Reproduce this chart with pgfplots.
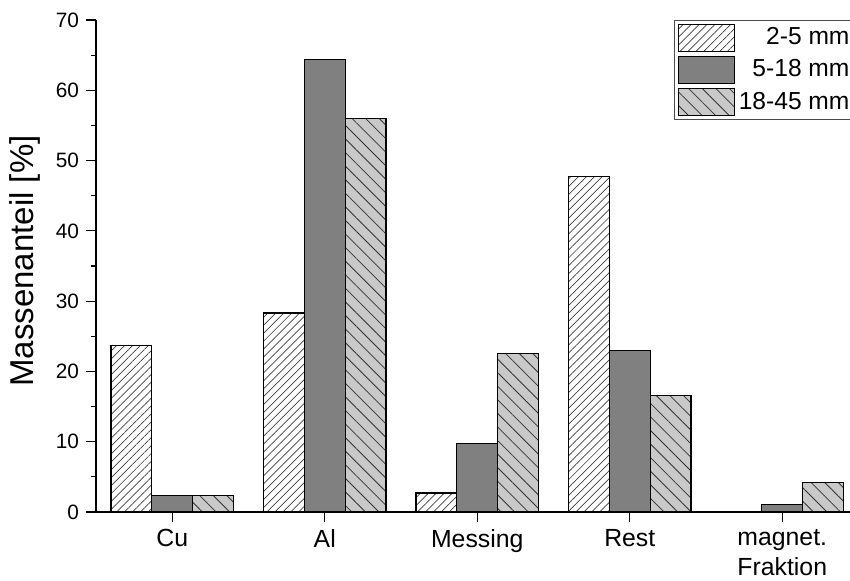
\documentclass[border=0pt]{standalone}
\usepackage{fontspec}
\setmainfont{Liberation Sans}
\usepackage{pgfplots}
\pgfplotsset{compat=1.18}
\usetikzlibrary{patterns.meta}

\definecolor{darkbar}{RGB}{128,128,128}
\definecolor{lightbar}{RGB}{201,201,201}

\begin{document}
\begin{tikzpicture}
\begin{axis}[
  at={(0pt,0pt)}, anchor=south west,
  scale only axis, width=381.25pt, height=246pt,
  xmin=-0.5, xmax=4.5, ymin=0, ymax=70,
  axis x line*=bottom, axis y line*=left,
  axis line style={-, line width=0.6pt},
  ytick={0,10,...,70}, minor y tick num=1,
  xtick={0,1,2,3,4},
  xticklabels={Cu,Al,Messing,Rest,{magnet.\\Fraktion}},
  xticklabel style={align=center, font=\fontsize{12.4}{15}\selectfont},
  yticklabel style={font=\fontsize{10.4}{12}\selectfont},
  /pgf/number format/assume math mode=true,
  tick align=outside,
  major tick length=5pt, minor tick length=2.5pt,
  tick style={black, line width=0.6pt},
  ylabel={Massenanteil [\%]},
  every axis y label/.style={at={(axis description cs:-0.093,0.51)}, anchor=center, rotate=90, font=\fontsize{16.5}{18}\selectfont},
  ybar, bar width=0.268,
  legend cell align=right,
  legend style={at={(0.758,1)}, anchor=north west, draw=black!70, line width=0.6pt,
    inner sep=1.5pt, row sep=2pt, font=\fontsize{12.3}{14}\selectfont,
    /tikz/every even column/.append style={column sep=3pt}},
  legend image code/.code={\draw[#1, line width=0.6pt] (0pt,-6.75pt) rectangle (28pt,6.75pt);},
]
\addplot[draw=black, line width=0.6pt, fill=white, bar shift=-0.268,
  postaction={pattern={Lines[angle=45,distance=2.8pt,line width=0.35pt]}, pattern color=black!75}]
  coordinates {(0,23.7) (1,28.3) (2,2.7) (3,47.7) (4,0)};
\addplot[draw=black, line width=0.6pt, fill=darkbar, bar shift=0]
  coordinates {(0,2.4) (1,64.4) (2,9.8) (3,23.0) (4,1.1)};
\addplot[draw=black, line width=0.6pt, fill=lightbar, bar shift=0.268,
  postaction={pattern={Lines[angle=-45,distance=4.8pt,line width=0.4pt]}, pattern color=black!80}]
  coordinates {(0,2.3) (1,56.0) (2,22.6) (3,16.6) (4,4.2)};
\legend{2-5 mm, 5-18 mm, 18-45 mm}
\end{axis}
\pgfresetboundingbox
\useasboundingbox (-48pt,-34.5pt) rectangle (377pt,256pt);
\end{tikzpicture}
\end{document}
